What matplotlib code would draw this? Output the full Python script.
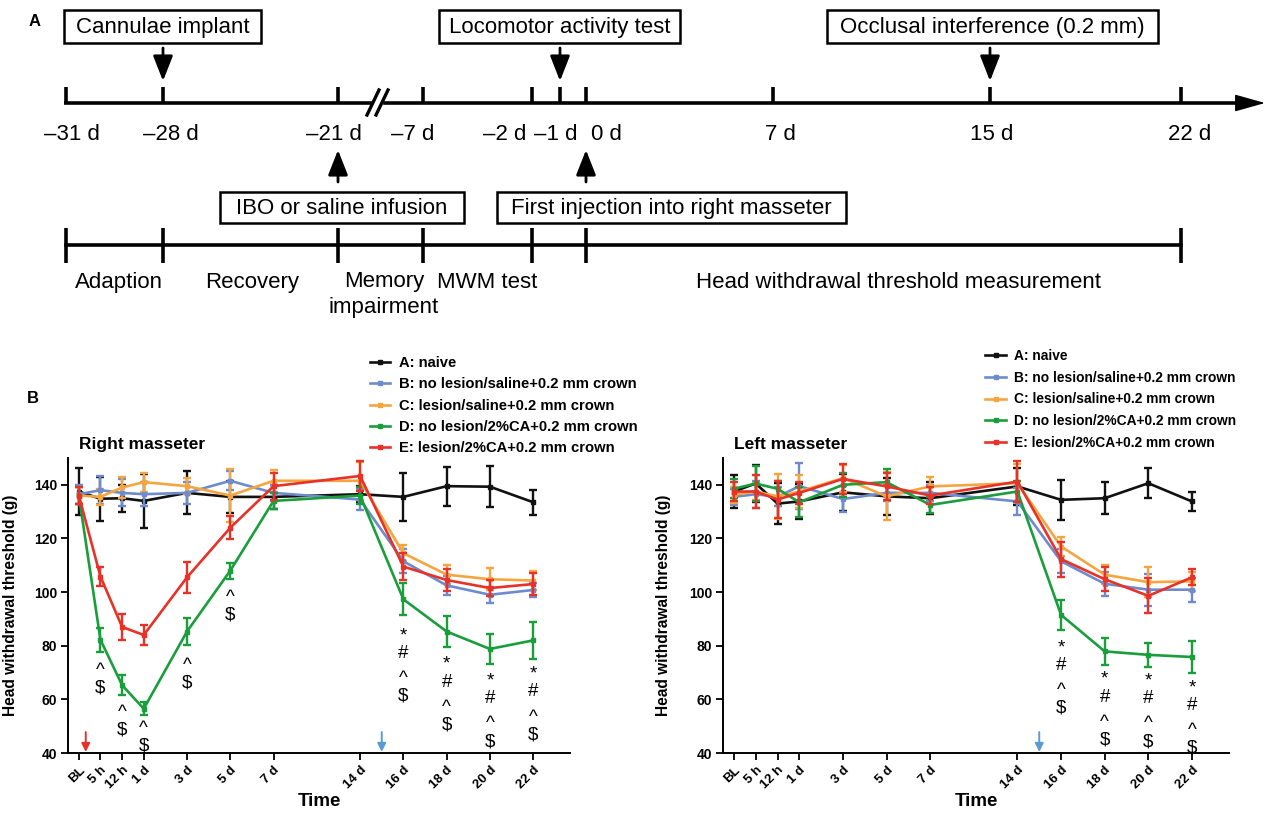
import matplotlib
matplotlib.use('Agg')
import matplotlib.pyplot as plt
from matplotlib.lines import Line2D
from matplotlib.patches import Rectangle

plt.rcParams['font.family'] = ['Liberation Sans', 'DejaVu Sans']

# ---------------- data: panel B ----------------
time_labels = ['BL', '5 h', '12 h', '1 d', '3 d', '5 d', '7 d', '14 d', '16 d', '18 d', '20 d', '22 d']
time_pos = [0, 1, 2, 3, 5, 7, 9, 13, 15, 17, 19, 21]

group_keys = ['A', 'B', 'C', 'D', 'E']
group_labels = ['A: naive', 'B: no lesion/saline+0.2 mm crown', 'C: lesion/saline+0.2 mm crown',
                'D: no lesion/2%CA+0.2 mm crown', 'E: lesion/2%CA+0.2 mm crown']
group_colors = ['#111111', '#6e8ccd', '#f5a540', '#1a9e3c', '#e83228']

# Right masseter
rm_A = [137.5, 134.8, 135.0, 134.0, 137.0, 135.5, 135.5, 136.5, 135.5, 139.5, 139.3, 133.5]
rm_A_err = [8.6, 8.2, 5.0, 10.0, 8.0, 6.0, 4.5, 3.0, 9.0, 7.3, 7.6, 4.7]
rm_B = [136.5, 138.0, 137.0, 136.5, 137.0, 141.5, 137.0, 134.5, 111.5, 102.5, 99.0, 100.8]
rm_B_err = [3.5, 5.3, 5.0, 4.5, 4.0, 3.5, 3.0, 4.0, 4.5, 3.5, 3.0, 2.5]
rm_C = [136.0, 135.5, 139.0, 141.0, 139.5, 136.0, 141.5, 141.5, 114.5, 106.5, 104.8, 104.3]
rm_C_err = [3.0, 3.0, 4.0, 3.5, 3.0, 10.0, 4.0, 7.0, 3.0, 3.5, 4.0, 3.5]
rm_D = [136.0, 82.2, 65.3, 56.5, 85.3, 108.0, 134.0, 136.0, 97.3, 85.3, 78.8, 82.0]
rm_D_err = [3.0, 4.5, 3.7, 2.5, 5.0, 3.0, 3.0, 3.0, 6.0, 5.7, 5.5, 6.8]
rm_E = [136.0, 105.8, 87.0, 84.0, 105.5, 124.0, 139.5, 143.3, 109.5, 104.5, 101.5, 103.0]
rm_E_err = [3.0, 3.7, 5.0, 3.7, 5.7, 4.3, 5.0, 5.5, 5.0, 4.0, 3.0, 4.0]

# Left masseter
lm_A = [137.5, 140.5, 133.0, 133.8, 137.2, 135.7, 135.0, 139.4, 134.4, 135.0, 140.6, 133.8]
lm_A_err = [6.0, 7.0, 7.5, 6.5, 7.0, 7.0, 6.0, 7.0, 7.5, 6.0, 5.7, 3.7]
lm_B = [135.5, 136.5, 135.5, 139.5, 134.7, 137.0, 137.0, 133.8, 111.5, 103.1, 100.9, 100.9]
lm_B_err = [3.0, 5.0, 3.5, 8.5, 5.0, 3.0, 3.0, 5.0, 4.5, 4.5, 6.0, 4.5]
lm_C = [136.3, 137.5, 135.7, 137.5, 142.5, 135.7, 139.4, 140.6, 117.0, 106.5, 103.7, 104.0]
lm_C_err = [3.0, 3.0, 8.5, 6.0, 5.0, 9.0, 3.5, 7.0, 3.5, 3.5, 5.5, 3.5]
lm_D = [138.5, 140.5, 138.5, 133.5, 140.0, 141.0, 132.5, 137.5, 91.5, 77.9, 76.6, 75.8]
lm_D_err = [3.5, 6.5, 3.0, 5.5, 4.5, 5.0, 3.0, 4.0, 5.5, 5.0, 4.5, 6.0]
lm_E = [137.5, 137.5, 134.5, 137.0, 142.2, 139.4, 136.0, 141.2, 112.3, 104.8, 98.6, 105.5]
lm_E_err = [3.5, 6.0, 7.0, 4.0, 5.5, 5.0, 3.0, 7.5, 6.5, 4.5, 6.5, 3.0]

# significance marks (time index, symbols, y of first symbol)
rm_ann_idx = [1, 2, 3, 4, 5, 8, 9, 10, 11]
rm_ann_txt = ['^$', '^$', '^$', '^$', '^$', '*#^$', '*#^$', '*#^$', '*#^$']
rm_ann_top = [72.9, 57.4, 51.2, 74.8, 100.2, 86.0, 75.4, 69.2, 71.7]
lm_ann_idx = [8, 9, 10, 11]
lm_ann_txt = ['*#^$', '*#^$', '*#^$', '*#^$']
lm_ann_top = [81.6, 69.8, 69.2, 66.7]

# ---------------- data: panel A timeline ----------------
tl_labels = ['\u201331 d', '\u201328 d', '\u201321 d', '\u20137 d', '\u20132 d', '\u20131 d', '0 d', '7 d', '15 d', '22 d']
top_events = ['Cannulae implant', 'Locomotor activity test', 'Occlusal interference (0.2 mm)']
bottom_events = ['IBO or saline infusion', 'First injection into right masseter']
phase_labels = ['Adaption', 'Recovery', 'Memory\nimpairment', 'MWM test', 'Head withdrawal threshold measurement']

W, H = 1277, 813
fig = plt.figure(figsize=(W / 100, H / 100), dpi=100)

# ================= Panel A (pixel coordinate overlay) =================
axA = fig.add_axes([0, 0, 1, 1])
axA.set_xlim(0, W)
axA.set_ylim(H, 0)
axA.axis('off')

TXT = 16
line_y = 103
tick_x = [66, 163, 338, 423, 532, 560, 586, 773, 990, 1181]
label_x = [72, 171, 334, 413, 505, 556, 606, 780, 992, 1190]
axA.plot([64, 1244], [line_y, line_y], color='k', lw=2.6, solid_capstyle='butt')
axA.annotate('', xy=(1265, line_y), xytext=(1236, line_y),
             arrowprops=dict(arrowstyle='-|>,head_length=1.6,head_width=0.45', lw=1, color='k',
                             shrinkA=0, shrinkB=0, mutation_scale=12))
for tx in tick_x:
    axA.plot([tx, tx], [87, line_y], color='k', lw=2.6, solid_capstyle='butt')
for lx, lab in zip(label_x, tl_labels):
    axA.text(lx, 134, lab, ha='center', va='center', fontsize=TXT)
# axis break
axA.add_patch(Rectangle((372, 96), 10, 14, color='white', zorder=3))
axA.plot([367, 379], [115, 90], color='k', lw=2.4, zorder=4)
axA.plot([376, 388], [115, 90], color='k', lw=2.4, zorder=4)

arrow_kw = dict(arrowstyle='-|>,head_length=1.4,head_width=0.55', lw=2.0, color='k',
                shrinkA=0, shrinkB=0, mutation_scale=11)
# boxes with arrows (top)
top_boxes = [(64, 261), (439, 680), (827, 1158)]
top_arrow_x = [163, 560, 990]
for (x0, x1), ev, ax_ in zip(top_boxes, top_events, top_arrow_x):
    axA.add_patch(Rectangle((x0, 10), x1 - x0, 33, fill=False, lw=1.8, ec='k'))
    axA.text((x0 + x1) / 2, 27, ev, ha='center', va='center', fontsize=TXT)
    axA.annotate('', xy=(ax_, 81), xytext=(ax_, 48), arrowprops=arrow_kw)
bot_boxes = [(220, 464), (497, 846)]
bot_arrow_x = [338, 586]
for (x0, x1), ev, ax_ in zip(bot_boxes, bottom_events, bot_arrow_x):
    axA.add_patch(Rectangle((x0, 192), x1 - x0, 31, fill=False, lw=1.8, ec='k'))
    axA.text((x0 + x1) / 2, 208, ev, ha='center', va='center', fontsize=TXT)
    axA.annotate('', xy=(ax_, 150), xytext=(ax_, 182), arrowprops=arrow_kw)

# phase line
phase_tick_x = [66, 163, 338, 423, 532, 586, 1181]
axA.plot([66, 1181], [245, 245], color='k', lw=2.6)
for tx in phase_tick_x:
    axA.plot([tx, tx], [228, 263], color='k', lw=2.6, solid_capstyle='butt')
phase_x = [119, 252, 384, 487, 898]
for px, lab in zip(phase_x, phase_labels):
    if '\n' in lab:
        axA.text(px, 271, lab, ha='center', va='top', fontsize=TXT, linespacing=1.3)
    else:
        axA.text(px, 282, lab, ha='center', va='center', fontsize=TXT)

axA.text(35, 22, 'A', fontsize=12, fontweight='bold', ha='center', va='center')
axA.text(33, 398, 'B', fontsize=12, fontweight='bold', ha='center', va='center')

# ================= Panel B =================
def px_axes(x0, x1, ytop, ybot):
    return [x0 / W, 1 - ybot / H, (x1 - x0) / W, (ybot - ytop) / H]

draw_order = [0, 3, 4, 2, 1]
SYM = 13.5
EM = SYM / 72 * 100 * 110 / 295  # symbol em in data units
glyph_off = {'^': 0.55, '*': 0.57, '#': 0.36, '$': 0.33}


def draw_panel(ax, means, errs, title, ann_idx, ann_txt, ann_top, ylab_x):
    for gi in draw_order:
        ax.errorbar(time_pos, means[gi], yerr=errs[gi], color=group_colors[gi], lw=1.9,
                    marker='s', ms=2.5, capsize=3.2, elinewidth=1.7, capthick=1.7, zorder=3 + gi * 0.1)
    ax.set_xlim(-0.5, 22.7)
    ax.set_ylim(40, 150)
    ax.set_yticks(range(40, 141, 20))
    ax.set_xticks(time_pos)
    ax.set_xticklabels(time_labels, rotation=45, ha='right', rotation_mode='anchor',
                       fontweight='bold', fontsize=9.5)
    for lab in ax.get_yticklabels():
        lab.set_fontweight('bold')
        lab.set_fontsize(10)
    ax.tick_params(direction='out', length=5, width=1.3, pad=3)
    for s in ['top', 'right']:
        ax.spines[s].set_visible(False)
    for s in ['left', 'bottom']:
        ax.spines[s].set_linewidth(1.4)
    ax.set_ylabel('Head withdrawal threshold (g)', fontweight='bold', fontsize=11.2)
    ax.yaxis.set_label_coords(ylab_x, 0.5)
    ax.set_xlabel('Time', fontweight='bold', fontsize=13.5)
    ax.xaxis.set_label_coords(0.5, -0.135)
    ax.text(0.0, 155, title, fontweight='bold', fontsize=12.5, ha='left', va='center')
    for i, txt, top in zip(ann_idx, ann_txt, ann_top):
        for k, ch in enumerate(txt):
            yc = top - k * 8.1
            ax.text(time_pos[i], yc - glyph_off[ch] * EM, ch, ha='center', va='baseline',
                    fontsize=SYM, color='k', zorder=6)
    ax.annotate('', xy=(14, 40.4), xytext=(14, 47.8),
                arrowprops=dict(arrowstyle='-|>,head_length=0.5,head_width=0.25', color='#5b9bd5', lw=1.4,
                                shrinkA=0, shrinkB=0, mutation_scale=10))


axL = fig.add_axes(px_axes(68, 570, 458, 753))
draw_panel(axL, [rm_A, rm_B, rm_C, rm_D, rm_E], [rm_A_err, rm_B_err, rm_C_err, rm_D_err, rm_E_err],
           'Right masseter', rm_ann_idx, rm_ann_txt, rm_ann_top, -0.1)
axL.annotate('', xy=(0.32, 40.4), xytext=(0.32, 47.8),
             arrowprops=dict(arrowstyle='-|>,head_length=0.5,head_width=0.25', color='#e8302a', lw=1.4,
                             shrinkA=0, shrinkB=0, mutation_scale=10))

axR = fig.add_axes(px_axes(723, 1229, 458, 753))
draw_panel(axR, [lm_A, lm_B, lm_C, lm_D, lm_E], [lm_A_err, lm_B_err, lm_C_err, lm_D_err, lm_E_err],
           'Left masseter', lm_ann_idx, lm_ann_txt, lm_ann_top, -0.103)

handles = [Line2D([], [], color=c, lw=1.9, marker='s', ms=2.5) for c in group_colors]
fig.legend(handles, group_labels, loc='upper left', bbox_to_anchor=(370 / W, 1 - 356 / H),
           frameon=False, prop=dict(weight='bold', size=10.6), borderpad=0, borderaxespad=0,
           handlelength=1.35, handletextpad=0.65, labelspacing=0.5)
fig.legend(handles, group_labels, loc='upper left', bbox_to_anchor=(985 / W, 1 - 349 / H),
           frameon=False, prop=dict(weight='bold', size=9.9), borderpad=0, borderaxespad=0,
           handlelength=1.55, handletextpad=0.55, labelspacing=0.56)

fig.savefig('out.png', dpi=100)
